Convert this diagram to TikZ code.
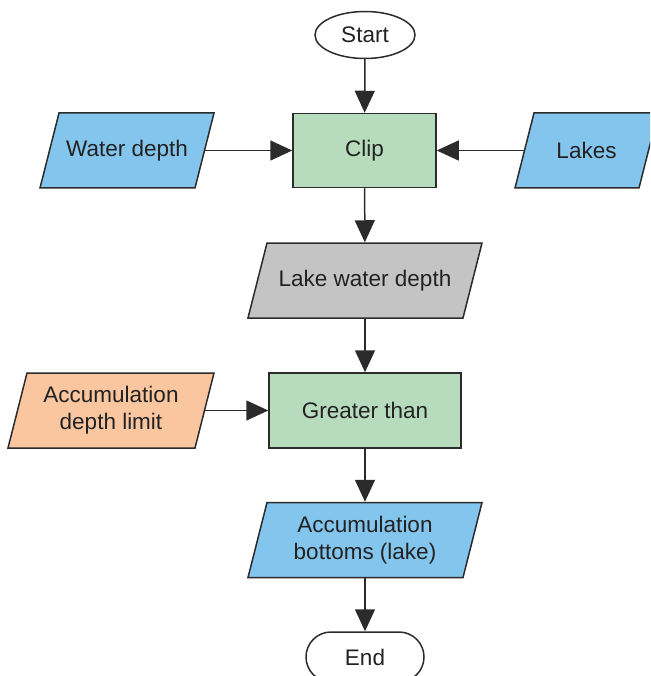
\documentclass[tikz,border=0pt]{standalone}
\usepackage{fontspec}
\setmainfont{Liberation Sans}
\usetikzlibrary{shapes.geometric,shapes.misc,arrows.meta}

\definecolor{inblue}{HTML}{84C5EE}
\definecolor{procgreen}{HTML}{B6DCBD}
\definecolor{midgrey}{HTML}{C4C4C4}
\definecolor{paramorange}{HTML}{F9C6A0}
\definecolor{edge}{HTML}{2B2B2B}
\definecolor{ink}{HTML}{222222}

\tikzset{
  base/.style={draw=edge, line width=1.5pt, text=ink, align=center,
    font=\fontsize{22.5}{27}\selectfont, inner sep=0pt},
  terminal/.style={base, ellipse, minimum width=100pt, minimum height=47pt},
  endcap/.style={base, rounded rectangle, minimum width=118pt, minimum height=50pt},
  process/.style={base, rectangle, fill=procgreen},
  datatext/.style={base, draw=none, rectangle, minimum height=75pt},
  dataframe/.style={draw=edge, line width=1.5pt},
  flow/.style={draw=edge, line width=1.5pt, -{Triangle[length=22pt,width=20pt]}}
}

% slanted input/output box: name, x, y, width at mid-height, fill colour, text
\newcommand\iobox[6]{%
  \path[dataframe, fill=#5]
    ({#2-#4/2+9.5},{#3-37.5}) -- ({#2+#4/2+9.5},{#3-37.5}) --
    ({#2+#4/2-9.5},{#3+37.5}) -- ({#2-#4/2-9.5},{#3+37.5}) -- cycle;
  \node[datatext, minimum width=#4pt] (#1) at (#2,#3) {#6};
}

\begin{document}
\begin{tikzpicture}[x=1pt, y=-1pt]
  \path[use as bounding box, clip] (0,0) rectangle (650,676);

  % terminals
  \node[terminal] (start) at (365,35) {Start};
  \node[endcap] (end) at (365,657) {End};

  % processing steps
  \node[process, minimum width=143pt, minimum height=74pt] (clip) at (364.5,150.5) {Clip};
  \node[process, minimum width=192pt, minimum height=75pt] (gt) at (365,410.5) {Greater than};

  % data sets and parameters
  \iobox{wd}{127}{150.5}{155}{inblue}{Water depth}
  \iobox{lakes}{586.5}{150.5}{124}{inblue}{Lakes}
  \iobox{lwd}{365}{280.5}{215}{midgrey}{Lake water depth}
  \iobox{adl}{111}{410.5}{187}{paramorange}{Accumulation\\depth limit}
  \iobox{ab}{365}{540}{215}{inblue}{Accumulation\\bottoms (lake)}

  % connectors
  \draw[flow] (start) -- (clip);
  \draw[flow] (wd) -- (clip);
  \draw[flow] (lakes) -- (clip);
  \draw[flow] (clip) -- (lwd);
  \draw[flow] (lwd) -- (gt);
  \draw[flow] (adl) -- (gt);
  \draw[flow] (gt) -- (ab);
  \draw[flow] (ab) -- (end);
\end{tikzpicture}
\end{document}
